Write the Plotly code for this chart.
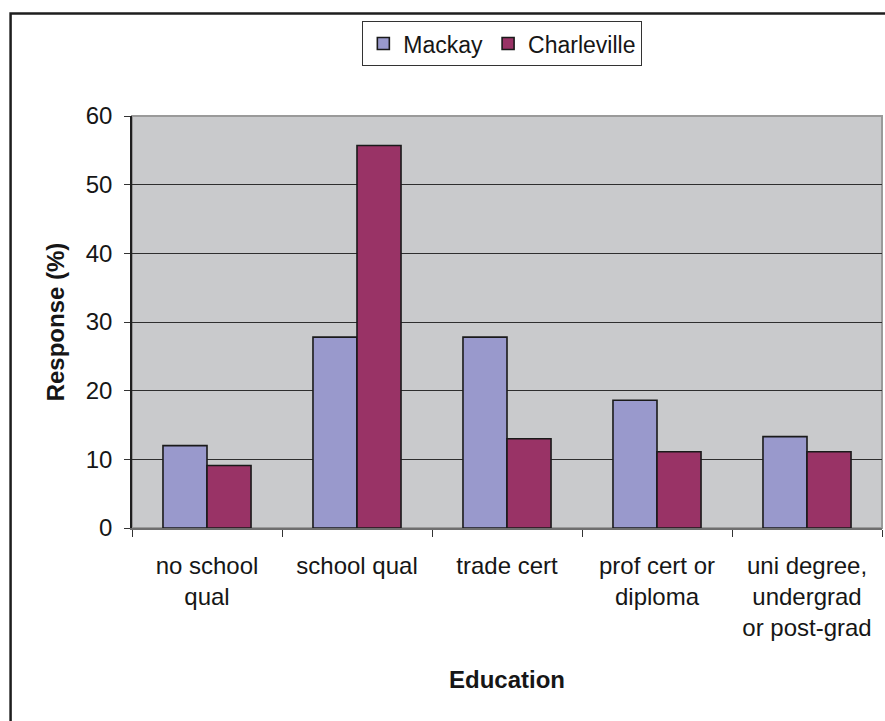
import plotly.graph_objects as go

# Education level responses (%) for two towns
categories = [
    "no school<br>qual",
    "school qual",
    "trade cert",
    "prof cert or<br>diploma",
    "uni degree,<br>undergrad<br>or post-grad",
]
mackay = [12.0, 27.8, 27.8, 18.6, 13.3]
charleville = [9.1, 55.7, 13.0, 11.1, 11.1]
y_ticks = [0, 10, 20, 30, 40, 50, 60]

W, H = 885, 721
ML, MR, MT, MB = 131.5, 3, 116, 192.5
pw, ph = W - ML - MR, H - MT - MB


def px_x(x):
    return (x - ML) / pw


def px_y(y):
    return (H - MB - y) / ph


FONT = "Liberation Sans, Arial, sans-serif"
INK = "#161616"

fig = go.Figure()
fig.add_trace(go.Bar(
    name="Mackay", x=categories, y=mackay,
    marker=dict(color="#9999CC", line=dict(color="#1a1a1a", width=1.6)),
))
fig.add_trace(go.Bar(
    name="Charleville", x=categories, y=charleville,
    marker=dict(color="#993366", line=dict(color="#1a1a1a", width=1.6)),
))

fig.update_layout(
    width=W, height=H,
    margin=dict(l=ML, r=MR, t=MT, b=MB, pad=0),
    paper_bgcolor="white",
    plot_bgcolor="#C9CACC",
    barmode="group",
    bargap=0.413,
    bargroupgap=0,
    font=dict(family=FONT, size=23, color=INK),
    showlegend=True,
    legend=dict(
        orientation="h",
        x=px_x(362), y=px_y(21), xanchor="left", yanchor="top",
        bgcolor="white", bordercolor="#333333", borderwidth=1,
        font=dict(family=FONT, size=23, color=INK),
        itemwidth=30, tracegroupgap=0,
    ),
    xaxis=dict(
        type="category",
        showgrid=False,
        showline=True, linecolor="#6e6e6e", linewidth=1.5,
        ticks="outside", tickson="boundaries", ticklen=7,
        tickcolor="#333333", tickwidth=1,
        ticklabelstandoff=15,
        tickfont=dict(family=FONT, size=24, color=INK),
        title=dict(text="<b>Education</b>", standoff=31,
                   font=dict(family=FONT, size=24, color=INK)),
        automargin=False,
    ),
    yaxis=dict(
        range=[0, 60],
        tickvals=y_ticks,
        showgrid=True, gridcolor="#2e2e2e", gridwidth=1,
        zeroline=False,
        showline=True, linecolor="#1e1e1e", linewidth=1.5,
        ticks="outside", ticklen=6, tickcolor="#333333", tickwidth=1,
        ticklabelstandoff=7,
        tickfont=dict(family=FONT, size=24, color=INK),
        title=dict(text="<b>Response (%)</b>", standoff=14,
                   font=dict(family=FONT, size=24, color=INK)),
        automargin=False,
    ),
)

# Plot-area frame (grey) and the outer chart border (dark)
fig.add_shape(type="rect", xref="paper", yref="paper",
              x0=0, x1=1, y0=0, y1=1,
              line=dict(color="#9a9a9a", width=2), layer="below")
fig.add_shape(type="rect", xref="paper", yref="paper",
              x0=px_x(10), x1=px_x(W + 20), y0=px_y(H + 20), y1=px_y(13.5),
              line=dict(color="#1e1e1e", width=2.5))

fig.write_html("out.html")
